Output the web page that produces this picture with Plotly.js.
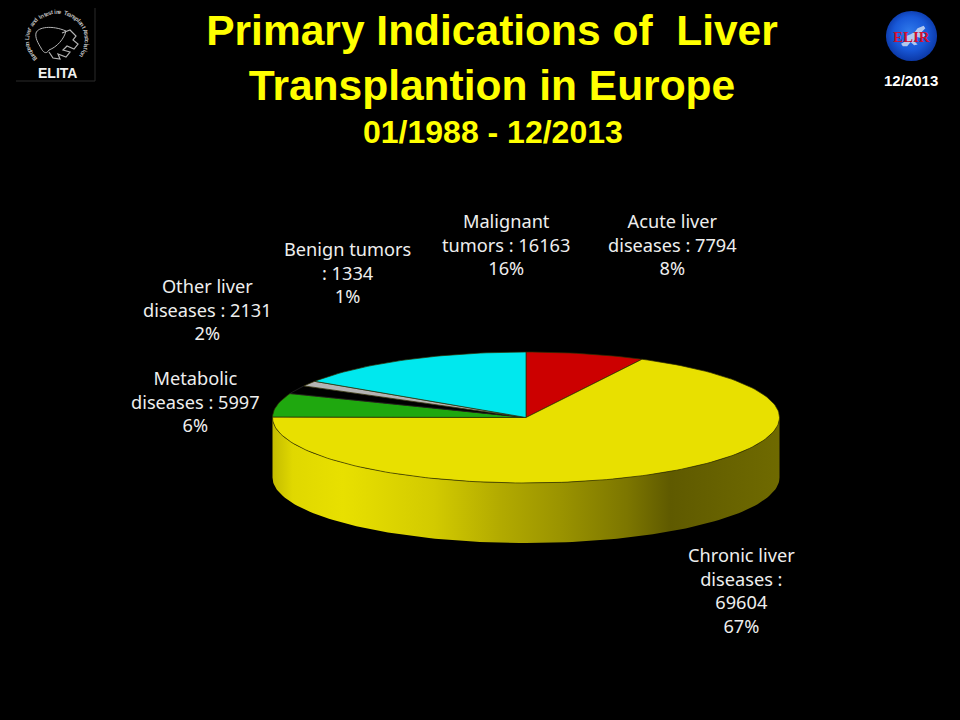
<!DOCTYPE html>
<html>
<head>
<meta charset="utf-8">
<script src="https://cdn.plot.ly/plotly-3.0.1.min.js"></script>
<style>html,body{margin:0;padding:0;background:#000}#chart{width:960px;height:720px}</style>
</head>
<body>
<div id="chart"></div>
<script>
// ---- data ----
const categories = ["Acute liver diseases", "Chronic liver diseases", "Metabolic diseases", "Other liver diseases", "Benign tumors", "Malignant tumors"];
const values = [7794, 69604, 5997, 2131, 1334, 16163];
const percents = ["8%", "67%", "6%", "2%", "1%", "16%"];
const sliceColors = ["#cc0000", "#e8e000", "#1fa80f", "#000000", "#b4b4b4", "#00e8ee"];
const labelLines = [
  ["Acute liver", "diseases : 7794", "8%"],
  ["Chronic liver", "diseases :", "69604", "67%"],
  ["Metabolic", "diseases : 5997", "6%"],
  ["Other liver", "diseases : 2131", "2%"],
  ["Benign tumors", ": 1334", "1%"],
  ["Malignant", "tumors : 16163", "16%"]
];
const labelX = [672, 741, 195, 207, 347, 506];
const labelY = [244.5, 590.5, 401.5, 309.5, 272.5, 244.5];

// ---- pie geometry ----
const cx = 526, cy = 417.5, rx = 253.5, ry = 65.5, depth = 60;
const total = values.reduce((a, b) => a + b, 0);
const pt = (deg, dy) => {
  const r = deg * Math.PI / 180;
  return [cx + rx * Math.sin(r), cy - ry * Math.cos(r) + (dy || 0)];
};
function arc(a0, a1, dy) {
  const n = Math.max(2, Math.ceil(Math.abs(a1 - a0) / 1.5));
  const out = [];
  for (let i = 0; i <= n; i++) out.push(pt(a0 + (a1 - a0) * i / n, dy));
  return out;
}
const traces = [];

// front wall of the chronic slice, the only side that shows
let acc = values[0] / total * 360;
const chronicEnd = acc + values[1] / total * 360;
const wallTop = arc(90, Math.min(chronicEnd, 270), 0);
const wallBottom = arc(Math.min(chronicEnd, 270), 90, depth);
const wall = wallTop.concat(wallBottom);
wall.push(wall[0]);
traces.push({
  type: "scatter", mode: "lines", hoverinfo: "skip", showlegend: false,
  x: wall.map(p => p[0]), y: wall.map(p => p[1]),
  fill: "toself",
  fillgradient: {
    type: "horizontal",
    colorscale: [[0, "#c4bc00"], [0.04, "#e0d800"], [0.14, "#e8e000"], [0.32, "#d2ca00"],
                 [0.45, "#b2aa00"], [0.57, "#9a9300"], [0.70, "#7c7600"], [0.785, "#5f5a00"], [0.90, "#686300"], [1, "#6f6a00"]]
  },
  line: { color: "rgba(0,0,0,0)", width: 0 }
});

// top face, one filled wedge per value
let start = 0;
values.forEach((v, i) => {
  const end = start + v / total * 360;
  const pts = [[cx, cy]].concat(arc(start, end, 0));
  pts.push([cx, cy]);
  traces.push({
    type: "scatter", mode: "lines", hoverinfo: "skip", showlegend: false,
    name: categories[i],
    x: pts.map(p => p[0]), y: pts.map(p => p[1]),
    fill: "toself", fillcolor: sliceColors[i],
    line: { color: i === 3 ? "#2a2a2a" : "#2e2c00", width: 0.7 }
  });
  start = end;
});

// ---- text ----
const annotations = labelLines.map((lines, i) => ({
  x: labelX[i], y: labelY[i], xref: "x", yref: "y", showarrow: false,
  text: lines.join("<br>"), align: "center", xanchor: "center", yanchor: "middle",
  font: { family: "'Noto Sans', 'Open Sans', sans-serif", size: 18.2, color: "#eeeeee" }
}));
annotations.push({
  x: 492.5, y: 132, xref: "x", yref: "y", showarrow: false, text: "01/1988 - 12/2013",
  font: { family: "'Liberation Sans', Arial, sans-serif", size: 32, color: "#ffff00", weight: "bold" }
});
annotations.push({
  x: 911, y: 80, xref: "x", yref: "y", showarrow: false, text: "12/2013",
  font: { family: "'Liberation Sans', Arial, sans-serif", size: 15, color: "#ffffff", weight: "bold" }
});
annotations.push({
  x: 911.5, y: 36.5, xref: "x", yref: "y", showarrow: false, text: "ELIR",
  font: { family: "'Liberation Serif', serif", size: 15, color: "#d01030", weight: "bold" }
});
annotations.push({
  x: 57, y: 73, xref: "x", yref: "y", showarrow: false, text: "ELITA",
  font: { family: "'Liberation Sans', Arial, sans-serif", size: 14, color: "#f0f0f0", weight: "bold" }
});
// ring text of the ELITA logo
const ringText = "European Liver and Intestine Transplant Association";
const ringChars = ringText.split("");
ringChars.forEach((ch, i) => {
  if (ch === " ") return;
  const ang = -132 + 256 * i / (ringChars.length - 1);
  const r = ang * Math.PI / 180;
  annotations.push({
    x: 57 + 30 * Math.sin(r), y: 40 - 28 * Math.cos(r), xref: "x", yref: "y", showarrow: false,
    text: ch, textangle: ang,
    font: { family: "'Liberation Sans', Arial, sans-serif", size: 6, color: "#b8b8b8", weight: "bold" }
  });
});

// ---- logos ----
const shapes = [
  { type: "line", xref: "x", yref: "y", x0: 95, x1: 95, y0: 8, y1: 81, line: { color: "#2a2a2a", width: 1 } },
  { type: "line", xref: "x", yref: "y", x0: 16, x1: 95, y0: 81, y1: 81, line: { color: "#2a2a2a", width: 1 } },
  { type: "path", xref: "x", yref: "y",
    path: "M36 33 C38 27 52 25 66 31 C64 39 57 47 49 50 C46 55 43 52 41 48 C38 43 35 38 36 33 Z",
    line: { color: "#b4b4b4", width: 1 }, fillcolor: "rgba(0,0,0,0)" },
  { type: "path", xref: "x", yref: "y",
    path: "M62 33 L70 30 L76 36 L73 40 L78 44 L74 49 L67 46 L63 50 L70 52 L66 57 L58 54 L60 59 L53 58 L49 52",
    line: { color: "#b4b4b4", width: 1.2 }, fillcolor: "rgba(0,0,0,0)" }
];
const globeSvg = '<svg xmlns="http://www.w3.org/2000/svg" width="120" height="120" viewBox="0 0 120 120">' +
  '<defs><radialGradient id="g" cx="0.5" cy="0.48" r="0.55" fx="0.45" fy="0.4">' +
  '<stop offset="0" stop-color="#2e78ea"/><stop offset="0.6" stop-color="#1858d8"/><stop offset="1" stop-color="#0a34a0"/></radialGradient></defs>' +
  '<circle cx="60" cy="60" r="59" fill="url(#g)"/>' +
  '<path d="M36 78 L50 70 L44 62 L58 56 L68 50 L74 42 L88 36 L92 42 L84 50 L92 58 L84 66 L72 62 L66 72 L74 80 L66 82 L58 74 L50 84 L40 84 Z" fill="#e4e9f4" opacity="0.75"/>' +
  '</svg>';

const layout = {
  width: 960, height: 720,
  margin: { l: 0, r: 0, t: 0, b: 0, pad: 0 },
  paper_bgcolor: "#000000", plot_bgcolor: "#000000",
  showlegend: false,
  title: {
    text: "Primary Indications of  Liver<br>Transplantion in Europe",
    font: { family: "'Liberation Sans', Arial, sans-serif", size: 42.5, color: "#ffff00", weight: "bold" },
    x: 0.5125, xanchor: "center", xref: "paper", y: 0.938, yanchor: "top"
  },
  xaxis: { range: [0, 960], visible: false, fixedrange: true },
  yaxis: { range: [720, 0], visible: false, fixedrange: true },
  annotations: annotations,
  shapes: shapes,
  images: [{
    source: "data:image/svg+xml;utf8," + encodeURIComponent(globeSvg),
    xref: "x", yref: "y", x: 885.5, y: 10.5, sizex: 52, sizey: 51,
    xanchor: "left", yanchor: "top", sizing: "stretch", layer: "below"
  }]
};
Plotly.newPlot("chart", traces, layout, { displayModeBar: false, staticPlot: true });
</script>
</body>
</html>
